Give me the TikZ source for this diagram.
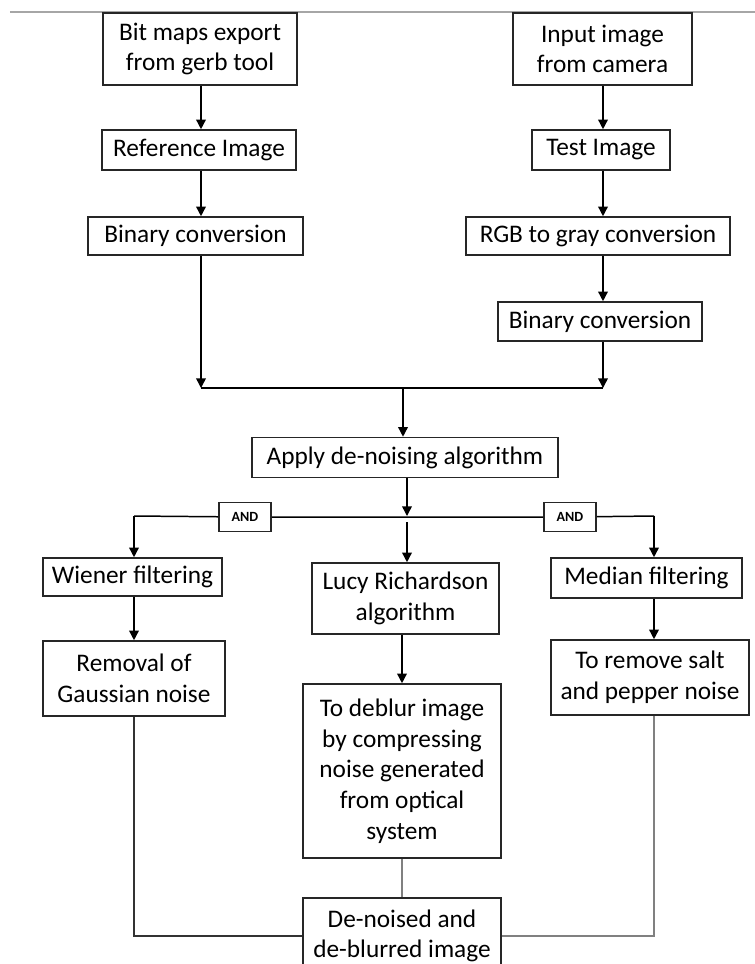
\documentclass[tikz,border=0pt]{standalone}
\usepackage{fontspec}
\setmainfont{Carlito}
\usetikzlibrary{arrows.meta, positioning}

\begin{document}
\begin{tikzpicture}[
    blk/.style={draw=black!85, line width=0.9pt, align=center, inner sep=2pt, font=\fontsize{14.4}{17.5}\selectfont},
    gate/.style={draw=black!85, line width=0.9pt, minimum width=1.04cm, minimum height=0.58cm, inner sep=1pt, font=\fontsize{8}{9}\selectfont\bfseries},
    flow/.style={->, line width=0.85pt},
    wire/.style={line width=0.85pt},
    >={Triangle[length=5.5pt, width=5.5pt]}
]
\useasboundingbox (0,0) rectangle (15.1,-19.28);
% Page rule
\draw[black!35, line width=1pt] (0.2,-0.24) -- (15.1,-0.24);
% Reference branch
\node[blk, minimum width=3.88cm, minimum height=1.44cm] (bmp) at (4.0,-0.98) {Bit maps export\\from gerb tool};
\node[blk, minimum width=3.88cm, minimum height=0.8cm] (ref) at (3.98,-3.0) {Reference Image};
\node[blk, minimum width=4.3cm, minimum height=0.76cm] (binl) at (3.91,-4.72) {Binary conversion};
% Test branch
\node[blk, minimum width=3.58cm, minimum height=1.44cm] (cam) at (12.05,-0.98) {Input image\\from camera};
\node[blk, minimum width=2.76cm, minimum height=0.8cm] (test) at (12.02,-3.0) {Test Image};
\node[blk, minimum width=5.28cm, minimum height=0.76cm] (rgb) at (11.96,-4.72) {RGB to gray conversion};
\node[blk, minimum width=4.08cm, minimum height=0.78cm] (binr) at (12.0,-6.43) {Binary conversion};
% De-noising
\node[blk, minimum width=6.12cm, minimum height=0.8cm] (apply) at (8.1,-9.15) {Apply de-noising algorithm};
\node[gate] (andl) at (4.9,-10.34) {AND};
\node[gate] (andr) at (11.4,-10.34) {AND};
\node[blk, minimum width=3.58cm, minimum height=0.76cm] (wien) at (2.65,-11.54) {Wiener filtering};
\node[blk, minimum width=3.64cm, minimum height=1.5cm] (gauss) at (2.68,-13.57) {Removal of\\Gaussian noise};
\node[blk, minimum width=3.74cm, minimum height=1.42cm] (lucy) at (8.11,-11.97) {Lucy Richardson\\algorithm};
\node[blk, minimum width=3.96cm, minimum height=3.48cm] (deblur) at (8.04,-15.42) {To deblur image\\by compressing\\noise generated\\from optical\\system};
\node[blk, minimum width=3.82cm, minimum height=0.8cm] (med) at (12.93,-11.56) {Median filtering};
\node[blk, minimum width=3.96cm, minimum height=1.5cm] (salt) at (13.0,-13.55) {To remove salt\\and pepper noise};
\node[blk, minimum width=3.96cm, minimum height=1.52cm] (out) at (8.04,-18.72) {De-noised and\\de-blurred image};
% Junctions
\coordinate (jl) at (4.02,-7.76);
\coordinate (jr) at (12.06,-7.76);
\coordinate (jm) at (8.06,-7.76);
\coordinate (sl) at (2.68,-10.32);
\coordinate (sm) at (8.14,-10.32);
\coordinate (sm2) at (8.14,-10.44);
\coordinate (sr) at (13.08,-10.32);
% Arrows
\draw[flow] (bmp.south -| jl) -- (jl |- ref.north);
\draw[flow] (ref.south -| jl) -- (jl |- binl.north);
\draw[flow] (binl.south -| jl) -- (jl);
\draw[flow] (cam.south -| jr) -- (jr |- test.north);
\draw[flow] (test.south -| jr) -- (jr |- rgb.north);
\draw[flow] (rgb.south -| jr) -- (jr |- binr.north);
\draw[flow] (binr.south -| jr) -- (jr);
\draw[wire] (jl) -- (jr);
\draw[flow] (jm) -- (jm |- apply.north);
\draw[flow] (apply.south -| sm) -- (sm);
\draw[wire] (sl) -- (andl) -- (andr) -- (sr);
\draw[flow] (sl) -- (sl |- wien.north);
\draw[flow] (sm2) -- (sm2 |- lucy.north);
\draw[flow] (sr) -- (sr |- med.north);
\draw[flow] (wien.south -| sl) -- (sl |- gauss.north);
\draw[flow] (lucy.south -| deblur) -- (deblur.north);
\draw[flow] (med.south -| sr) -- (sr |- salt.north);
% Merge
\draw[wire, black!80] (gauss.south -| sl) -- (sl |- out) -- (out.west);
\draw[wire, black!50, line width=1pt] (deblur) -- (out);
\draw[wire, black!50, line width=1pt] (salt.south -| sr) -- (sr |- out) -- (out.east);
\end{tikzpicture}
\end{document}
